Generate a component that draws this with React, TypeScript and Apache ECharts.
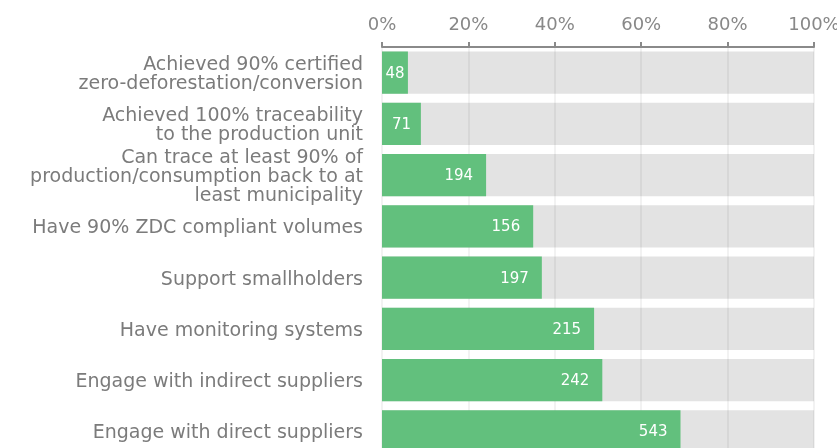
import React, { useEffect, useRef } from "react";
import * as echarts from "echarts";

const categories: string[] = [
  "Achieved 90% certified\nzero-deforestation/conversion",
  "Achieved 100% traceability\nto the production unit",
  "Can trace at least 90% of\nproduction/consumption back to at\nleast municipality",
  "Have 90% ZDC compliant volumes",
  "Support smallholders",
  "Have monitoring systems",
  "Engage with indirect suppliers",
  "Engage with direct suppliers",
];

const percentValues: number[] = [6.0, 9.0, 24.1, 35.0, 37.0, 49.1, 51.0, 69.1];
const countLabels: number[] = [48, 71, 194, 156, 197, 215, 242, 543];
const xTicks = { min: 0, max: 100, interval: 20 };

const FONT = "DejaVu Sans";

export default function App() {
  const ref = useRef<HTMLDivElement>(null);

  useEffect(() => {
    if (!ref.current) return;
    const chart = echarts.init(ref.current, undefined, { renderer: "svg" });
    chart.setOption({
      animation: false,
      textStyle: { fontFamily: FONT },
      grid: {
        left: 382,
        right: 23,
        top: 47,
        height: 410,
        containLabel: false,
        outerBoundsMode: "none",
      },
      xAxis: {
        type: "value",
        position: "top",
        min: xTicks.min,
        max: xTicks.max,
        interval: xTicks.interval,
        axisLine: { show: true, lineStyle: { color: "#8a8a8a", width: 2 } },
        axisTick: { show: true, length: 5, lineStyle: { color: "#8a8a8a", width: 2 } },
        axisLabel: {
          formatter: "{value}%",
          color: "#888888",
          fontSize: 18,
          fontFamily: FONT,
          margin: 15,
        },
        splitLine: { show: true, lineStyle: { color: "#eeeeee", width: 1.5 } },
      },
      yAxis: {
        type: "category",
        inverse: true,
        data: categories,
        axisLine: { show: false },
        axisTick: { show: false },
        axisLabel: {
          color: "#7b7b7b",
          fontSize: 19,
          lineHeight: 19,
          fontFamily: FONT,
          margin: 19,
          align: "right",
          padding: [3, 0, 0, 0],
        },
      },
      series: [
        {
          type: "bar",
          barWidth: "82%",
          showBackground: true,
          backgroundStyle: { color: "rgba(0,0,0,0.11)" },
          itemStyle: { color: "#62c07d" },
          data: percentValues.map((v) => ({
            value: v,
            label: v < 10 ? { position: "inside", distance: 0 } : undefined,
          })),
          label: {
            show: true,
            position: "insideRight",
            distance: 13,
            color: "#ffffff",
            fontSize: 15,
            fontFamily: FONT,
            formatter: (p: any) => String(countLabels[p.dataIndex]),
          },
        },
      ],
    });
    return () => chart.dispose();
  }, []);

  return (
    <div
      ref={ref}
      style={{ position: "fixed", left: 0, top: 0, width: 837, height: 470 }}
    />
  );
}
